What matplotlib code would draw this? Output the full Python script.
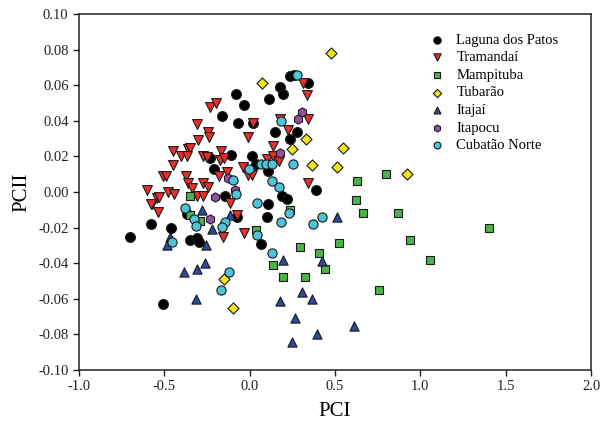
import matplotlib
matplotlib.use("Agg")
import matplotlib.pyplot as plt

# ---- data ----
laguna_x = [-0.70, -0.51, -0.58, -0.46, -0.35, -0.31, -0.30, -0.16, -0.23, -0.21, -0.145, -0.37,
            0.236, 0.26, 0.178, 0.197, 0.343, -0.082, -0.033, 0.115, -0.067, 0.018, 0.148, 0.279,
            0.236, -0.111, 0.015, 0.037, 0.109, 0.188, 0.217, 0.109, 0.389, 0.10, -0.076, 0.064]
laguna_y = [-0.025, -0.063, -0.018, -0.020, -0.027, -0.026, -0.028, 0.043, 0.019, 0.013, -0.002, -0.0125,
            0.065, 0.066, 0.059, 0.055, 0.061, 0.055, 0.049, 0.052, 0.039, 0.039, 0.034, 0.034,
            0.030, 0.021, 0.020, 0.016, 0.012, -0.002, -0.004, -0.007, 0.001, -0.014, -0.014, -0.029]

tram_x = [-0.233, -0.195, -0.307, -0.243, -0.237, -0.301, -0.448, -0.405, -0.36, -0.35, -0.37, -0.276,
          -0.252, -0.168, -0.174, -0.151, -0.451, -0.51, -0.492, -0.373, -0.18, -0.135, -0.604, -0.477,
          -0.444, -0.363, -0.34, -0.272, -0.243, -0.545, -0.532, -0.571, -0.579, -0.536, -0.307, -0.276,
          -0.155, 0.314, 0.338, 0.178, 0.021, 0.226, 0.344, -0.008, 0.135, 0.10, 0.138, 0.174,
          -0.037, -0.008, 0.012, 0.344, -0.115, -0.076, -0.033]
tram_y = [0.048, 0.050, 0.038, 0.034, 0.031, 0.029, 0.023, 0.020, 0.024, 0.0245, 0.020, 0.020,
          0.0195, 0.023, 0.018, 0.019, 0.015, 0.009, 0.009, 0.009, 0.009, 0.011, 0.001, 0.000,
          -0.001, 0.005, 0.002, 0.005, 0.003, -0.0035, -0.003, -0.0065, -0.007, -0.011, -0.002, -0.002,
          -0.025, 0.061, 0.0545, 0.041, 0.039, 0.035, 0.041, 0.031, 0.026, 0.0185, 0.020, 0.0175,
          0.014, 0.0095, 0.0095, 0.005, -0.006, -0.013, -0.023]

mamp_x = [-0.35, -0.35, -0.29, 0.034, 0.236, 0.295, 0.408, 0.441, 0.138, 0.197, 0.324, 0.627,
          0.799, 0.621, 0.662, 0.871, 0.523, 0.94, 0.76, 1.403, 1.057]
mamp_y = [-0.002, -0.013, -0.016, -0.0215, -0.010, -0.031, -0.0345, -0.043, -0.041, -0.048, -0.048, 0.006,
          0.010, -0.0045, -0.012, -0.012, -0.0285, -0.027, -0.055, -0.020, -0.038]

tub_x = [0.477, 0.07, 0.33, 0.25, 0.549, 0.363, 0.51, 0.924, -0.149, -0.096]
tub_y = [0.078, 0.061, 0.030, 0.024, 0.0245, 0.015, 0.014, 0.010, -0.049, -0.065]

itaj_x = [-0.281, -0.115, -0.223, -0.467, -0.487, -0.258, -0.262, -0.311, -0.385, -0.315,
          0.197, 0.422, 0.51, 0.305, 0.363, 0.178, 0.266, 0.611, 0.393, 0.246]
itaj_y = [-0.010, -0.013, -0.021, -0.025, -0.030, -0.030, -0.040, -0.043, -0.045, -0.060,
          -0.038, -0.039, -0.014, -0.056, -0.060, -0.061, -0.071, -0.075, -0.080, -0.084]

itap_x = [0.308, 0.285, 0.178, -0.125, -0.086, -0.203, -0.233]
itap_y = [0.045, 0.041, 0.022, 0.008, 0.001, -0.003, -0.015]

cub_x = [0.279, 0.183, 0.256, 0.064, 0.096, 0.129, -0.002, -0.096, -0.08, 0.129, 0.174, 0.041,
         0.232, 0.183, 0.369, 0.422, -0.145, -0.164, 0.041, 0.129, -0.121, -0.38, -0.327, -0.315,
         -0.454, -0.17]
cub_y = [0.066, 0.040, 0.016, 0.016, 0.016, 0.016, 0.013, 0.007, -0.001, 0.006, 0.003, -0.006,
         -0.012, -0.017, -0.018, -0.014, -0.017, -0.0195, -0.024, -0.034, -0.045, -0.009, -0.015, -0.019,
         -0.028, -0.055]

series_names = ["Laguna dos Patos", "Tramandaí", "Mampituba", "Tubarão", "Itajaí", "Itapocu", "Cubatão Norte"]

x_ticks = [-1.0, -0.5, 0.0, 0.5, 1.0, 1.5, 2.0]
y_ticks = [-0.10, -0.08, -0.06, -0.04, -0.02, 0.00, 0.02, 0.04, 0.06, 0.08, 0.10]

# ---- plot ----
plt.rcParams['font.family'] = ['Liberation Serif', 'DejaVu Serif']
fig = plt.figure(figsize=(6.01, 4.33), dpi=100)
ax = fig.add_axes([0.1315, 0.1455, 0.852, 0.822])

styles = [
    (laguna_x, laguna_y, 'o', '#000000', 50),
    (tram_x, tram_y, 'v', '#e8302a', 50),
    (mamp_x, mamp_y, 's', '#4cb34a', 32),
    (tub_x, tub_y, 'D', '#f2e41c', 32),
    (itaj_x, itaj_y, '^', '#2d4a9c', 44),
    (itap_x, itap_y, 'h', '#9a4fa6', 44),
    (cub_x, cub_y, 'o', '#4ec3da', 44),
]
for (xs, ys, m, c, s), name in zip(styles, series_names):
    ax.scatter(xs, ys, marker=m, s=s, c=c, edgecolors='#1a1a1a', linewidths=0.8, label=name, zorder=3)

ax.set_xlim(-1.0, 2.0)
ax.set_ylim(-0.10, 0.10)
ax.set_xticks(x_ticks)
ax.set_xticklabels([f"{v:.1f}" for v in x_ticks])
ax.set_yticks(y_ticks)
ax.set_yticklabels([f"{v:.2f}" for v in y_ticks])
ax.tick_params(direction='out', length=4, width=1, labelsize=10.5, colors='#222222')
for sp in ax.spines.values():
    sp.set_linewidth(1.1)
    sp.set_color('#222222')

ax.set_xlabel("PCI", fontsize=15, labelpad=6)
ax.set_ylabel("PCII", fontsize=15, labelpad=5)

leg = ax.legend(loc='upper left', bbox_to_anchor=(0.66, 0.962), frameon=False, fontsize=10.5,
                markerscale=0.75, handletextpad=0.3, labelspacing=0.3, borderaxespad=0.0)

fig.savefig("out.png", dpi=100)
